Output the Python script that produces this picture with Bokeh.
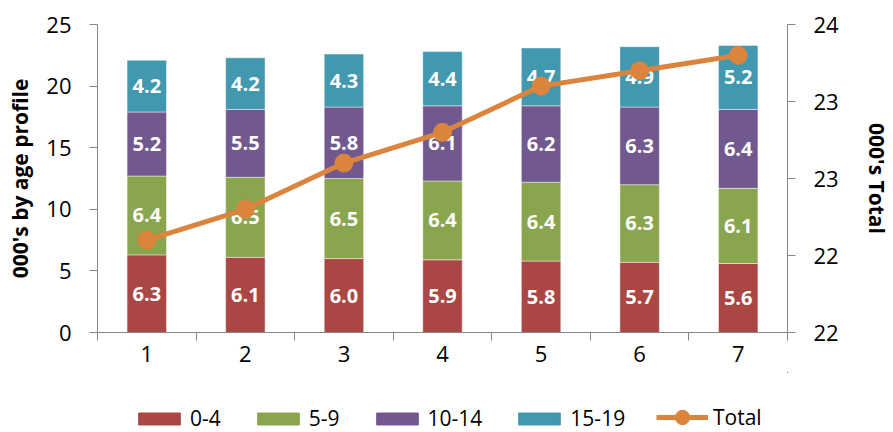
from bokeh.plotting import figure
from bokeh.models import (ColumnDataSource, Range1d, LinearAxis, FixedTicker,
                          NumeralTickFormatter, Legend, LegendItem)
from bokeh.layouts import column
from bokeh.embed import file_html
from bokeh.resources import INLINE
from bokeh.core.properties import value

# ---- data ----
periods = [1, 2, 3, 4, 5, 6, 7]
age_0_4 = [6.3, 6.1, 6.0, 5.9, 5.8, 5.7, 5.6]
age_5_9 = [6.4, 6.5, 6.5, 6.4, 6.4, 6.3, 6.1]
age_10_14 = [5.2, 5.5, 5.8, 6.1, 6.2, 6.3, 6.4]
age_15_19 = [4.2, 4.2, 4.3, 4.4, 4.7, 4.9, 5.2]
total = [22.1, 22.3, 22.6, 22.8, 23.1, 23.2, 23.3]
series_names = ["0-4", "5-9", "10-14", "15-19"]
total_name = "Total"
left_ticks = [0, 5, 10, 15, 20, 25]
right_ticks = [21.5, 22.0, 22.5, 23.0, 23.5]

# ---- style ----
colors = ["#AA4643", "#89A54E", "#71588F", "#4198AF"]
total_color = "#DB843D"
FONT = "Open Sans"
AXIS_GREY = "#868686"

series = [age_0_4, age_5_9, age_10_14, age_15_19]
keys = ["s0", "s1", "s2", "s3"]
data = {"x": periods, "total": total}
for k, s in zip(keys, series):
    data[k] = s
source = ColumnDataSource(data)

p = figure(width=893, height=372, x_range=Range1d(0.5, 7.5), y_range=Range1d(0, 25),
           output_backend="svg", toolbar_location=None,
           min_border_left=97, min_border_right=88, min_border_top=24, min_border_bottom=40)
p.extra_y_ranges = {"total": Range1d(right_ticks[0], right_ticks[-1])}
p.outline_line_color = None
p.xgrid.visible = False
p.ygrid.visible = False
p.background_fill_color = "white"

bars = p.vbar_stack(keys, x="x", width=0.4, source=source, color=colors,
                    line_color="white", line_alpha=0.45, line_width=1)

# data labels
lx, ly, lt = [], [], []
for i, x in enumerate(periods):
    base = 0.0
    for s in series:
        v = s[i]
        lx.append(x)
        ly.append(base + v / 2.0)
        lt.append(f"{v:.1f}")
        base += v
p.text(x=lx, y=ly, text=lt, text_align="center", text_baseline="middle",
       text_color="white", text_font=value(FONT), text_font_style="bold",
       text_font_size="20px")

# total line
line_r = p.line("x", "total", source=source, y_range_name="total",
                line_color=total_color, line_width=5)
dot_r = p.scatter("x", "total", source=source, y_range_name="total", size=18,
                  fill_color=total_color, line_color=total_color)

# axes
xa = p.xaxis[0]
xa.ticker = FixedTicker(ticks=periods, minor_ticks=[x - 0.5 for x in periods] + [periods[-1] + 0.5])
xa.major_tick_line_color = None
xa.major_tick_out = 0
xa.major_tick_in = 0
xa.minor_tick_out = 8
xa.minor_tick_in = 0
xa.minor_tick_line_color = AXIS_GREY
xa.axis_line_color = AXIS_GREY
xa.major_label_standoff = 5
xa.major_label_text_font = FONT
xa.major_label_text_font_size = "22px"
xa.major_label_text_color = "black"

ya = p.yaxis[0]
ya.ticker = FixedTicker(ticks=left_ticks)
ya.minor_tick_line_color = None
ya.major_tick_out = 8
ya.major_tick_in = 0
ya.major_tick_line_color = AXIS_GREY
ya.axis_line_color = AXIS_GREY
ya.major_label_standoff = 18
ya.major_label_text_font = FONT
ya.major_label_text_font_size = "22px"
ya.major_label_text_color = "black"
ya.axis_label = "000's by age profile"
ya.axis_label_text_font = FONT
ya.axis_label_text_font_style = "bold"
ya.axis_label_text_font_size = "21px"
ya.axis_label_text_color = "black"
ya.axis_label_standoff = 9

ra = LinearAxis(y_range_name="total", ticker=FixedTicker(ticks=right_ticks),
                formatter=NumeralTickFormatter(format="0"))
ra.minor_tick_line_color = None
ra.major_tick_out = 8
ra.major_tick_in = 0
ra.major_tick_line_color = AXIS_GREY
ra.axis_line_color = AXIS_GREY
ra.major_label_standoff = 18
ra.major_label_text_font = FONT
ra.major_label_text_font_size = "22px"
ra.major_label_text_color = "black"
ra.axis_label = "000's Total"
ra.axis_label_text_font = FONT
ra.axis_label_text_font_style = "bold"
ra.axis_label_text_font_size = "21px"
ra.axis_label_text_color = "black"
ra.axis_label_standoff = 21
p.add_layout(ra, "right")

# ---- legend strip (separate figure below the chart; frame aligned with chart frame) ----
lf = figure(width=893, height=60, x_range=Range1d(-20, -19), y_range=Range1d(-20, -19),
            output_backend="svg", toolbar_location=None,
            x_axis_location=None, y_axis_location=None,
            min_border_left=97, min_border_right=88, min_border_top=0, min_border_bottom=0)
lf.outline_line_color = None
lf.grid.visible = False

# legend proxies: same data, drawn outside the strip's visible range
swatches = lf.vbar_stack(keys, x="x", width=0.4, source=source, color=colors)
l_line = lf.line("x", "total", source=source, line_color=total_color, line_width=5)
l_dot = lf.scatter("x", "total", source=source, size=18,
                   fill_color=total_color, line_color=total_color)

common = dict(orientation="horizontal", glyph_width=52, label_standoff=5, spacing=31,
              label_text_font=FONT, label_text_font_size="21px", label_text_color="black",
              border_line_color=None, background_fill_alpha=0, padding=0, margin=0)
legend_a = Legend(items=[LegendItem(label=n, renderers=[r]) for n, r in zip(series_names, swatches)],
                  location=(36, 0), glyph_height=15, **common)
legend_b = Legend(items=[LegendItem(label=total_name, renderers=[l_line, l_dot])],
                  location=(559, -3), glyph_height=36, **common)
lf.add_layout(legend_a, "center")
lf.add_layout(legend_b, "center")

open("out.html", "w").write(file_html(column(p, lf), INLINE))
